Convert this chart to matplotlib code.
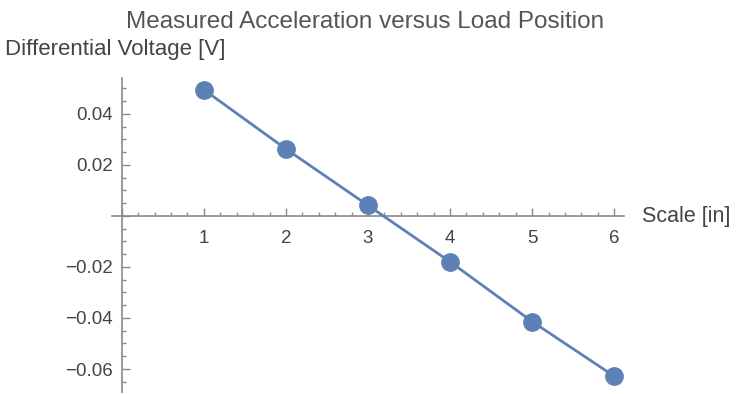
import matplotlib
matplotlib.use('Agg')
import matplotlib.pyplot as plt
from matplotlib.ticker import MultipleLocator, FuncFormatter

# load position [in] vs differential voltage [V]
scale_in = [1, 2, 3, 4, 5, 6]
voltage = [0.0494, 0.0262, 0.0041, -0.0180, -0.0414, -0.0628]

plt.rcParams['font.family'] = ['Liberation Sans', 'DejaVu Sans']
plt.rcParams['axes.unicode_minus'] = True

fig = plt.figure(figsize=(7.36, 3.94), dpi=100)
ax = fig.add_axes([112 / 736, 2 / 394, 512 / 736, 314 / 394])

blue = '#5E81B5'
ax.plot(scale_in, voltage, color=blue, lw=2, zorder=3)
ax.plot(scale_in, voltage, 'o', color=blue, ms=12.5, zorder=4)

ax.set_xlim(-0.12, 6.12)
ax.set_ylim(-0.069, 0.054)

axis_col = '#8a8a8a'
for s in ['top', 'right']:
    ax.spines[s].set_visible(False)
ax.spines['left'].set_position(('data', 0))
ax.spines['bottom'].set_position(('data', 0))
ax.spines['left'].set_color(axis_col)
ax.spines['bottom'].set_color(axis_col)
ax.spines['left'].set_linewidth(1.2)
ax.spines['bottom'].set_linewidth(1.2)

ax.xaxis.set_major_locator(MultipleLocator(1))
ax.xaxis.set_minor_locator(MultipleLocator(0.2))
ax.yaxis.set_major_locator(MultipleLocator(0.02))
ax.yaxis.set_minor_locator(MultipleLocator(0.005))


def xfmt(v, pos):
    return '' if abs(v) < 1e-9 else f'{v:g}'


def yfmt(v, pos):
    if abs(v) < 1e-9:
        return ''
    return f'{v:.2f}'.replace('-', '\u2212')


ax.xaxis.set_major_formatter(FuncFormatter(xfmt))
ax.yaxis.set_major_formatter(FuncFormatter(yfmt))

ax.tick_params(axis='x', which='major', direction='in', length=6, width=1, color=axis_col,
               labelsize=13.5, labelcolor='#444444', pad=10.5)
ax.tick_params(axis='x', which='minor', direction='in', length=3, width=1, color=axis_col)
ax.tick_params(axis='y', which='major', direction='in', length=6, width=1, color=axis_col,
               labelsize=13.5, labelcolor='#444444', pad=6.5)
ax.tick_params(axis='y', which='minor', direction='in', length=3, width=1, color=axis_col)

fig.text(365 / 736, 1 - 28 / 394, 'Measured Acceleration versus Load Position',
         ha='center', va='baseline', fontsize=17.5, color='#555555')
fig.text(5 / 736, 1 - 55 / 394, 'Differential Voltage [V]',
         ha='left', va='baseline', fontsize=16, color='#444444')
fig.text(642 / 736, 1 - 222 / 394, 'Scale [in]',
         ha='left', va='baseline', fontsize=15.5, color='#444444')

fig.savefig('out.png', dpi=100)
